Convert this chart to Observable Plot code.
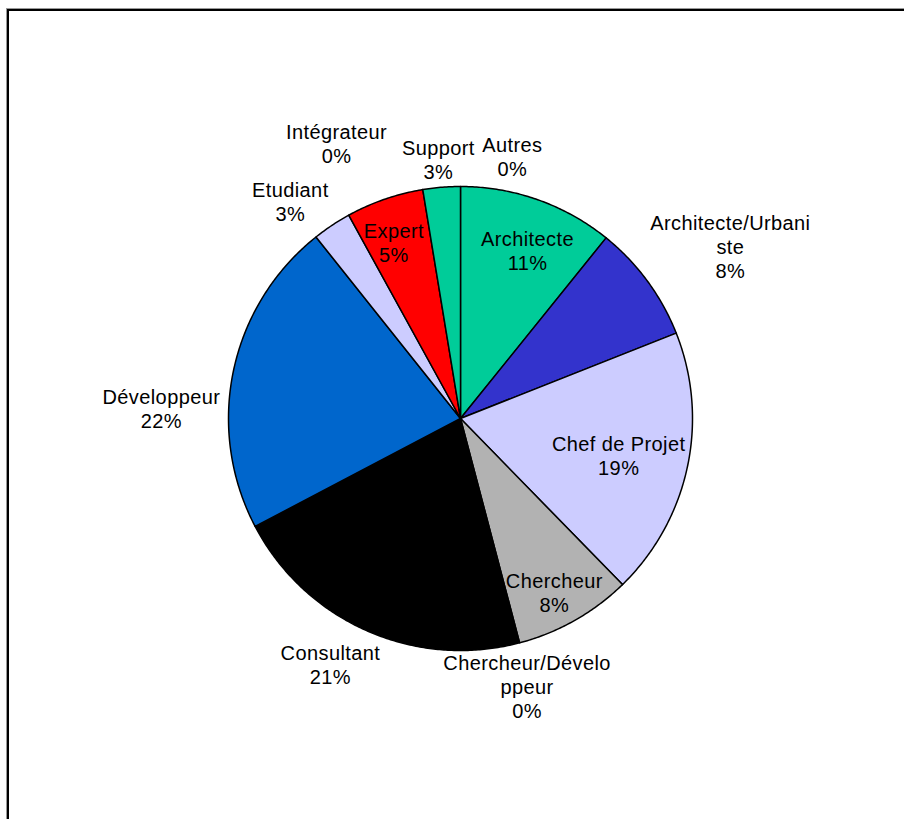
<!DOCTYPE html>
<html>
<head>
<meta charset="utf-8">
<script src="https://cdn.jsdelivr.net/npm/d3@7"></script>
<script src="https://cdn.jsdelivr.net/npm/@observablehq/plot@0.6"></script>
<style>
  html, body { margin: 0; padding: 0; background: #fff; }
  #wrap { position: relative; width: 904px; height: 819px; overflow: hidden; background: #fff; }
  #frame { position: absolute; left: 7px; top: 9px; width: 1200px; height: 1200px;
           border-top: 2px solid #000; border-left: 2px solid #000;
           box-shadow: -1px -1px 0 #999; pointer-events: none; }
  #chart { position: absolute; left: 0; top: 0; }
  #chart text { letter-spacing: 0.4px; }
</style>
</head>
<body>
<div id="wrap"><div id="chart"></div><div id="frame"></div></div>
<script>
// ---- data (clockwise from 12 o'clock) ----
const categories = ["Autres", "Architecte", "Architecte/Urbaniste", "Chef de Projet", "Chercheur",
  "Chercheur/Développeur", "Consultant", "Développeur", "Etudiant", "Expert", "Intégrateur", "Support"];
const displayLabels = ["Autres", "Architecte", "Architecte/Urbani\nste", "Chef de Projet", "Chercheur",
  "Chercheur/Dévelo\nppeur", "Consultant", "Développeur", "Etudiant", "Expert", "Intégrateur", "Support"];
const values = [0, 10.8, 8.2, 18.7, 8.2, 0, 21.4, 22.0, 2.7, 5.4, 0, 2.6];
const colors = ["#FFFFCC", "#00CC99", "#3333CC", "#CCCCFF", "#B2B2B2", "#808080", "#000000",
  "#0066CC", "#CCCCFF", "#FF0000", "#99CCFF", "#00CC99"];

// ---- label layout (Excel "best fit" placement): radius factor and angle shift (deg) ----
const labelRadius = [1.15, 0.78, 1.38, 0.70, 0.85, 1.19, 1.20, 1.29, 1.19, 0.81, 1.30, 1.12];
const labelShift  = [11.2, 2.3, 3.8, 1.0, 1.1, 0.8, 4.1, -10.0, -4.4, -1.7, -14.9, -0.2];

// ---- geometry ----
const W = 904, H = 819, cx = 460, cy = 418, R = 232;
const total = d3.sum(values);
let acc = 0;
const slices = categories.map((name, i) => {
  const a0 = acc / total * 360;
  acc += values[i];
  const a1 = acc / total * 360;
  return {name, label: displayLabels[i], value: values[i], color: colors[i], a0, a1, mid: (a0 + a1) / 2, i};
});

const rad = a => a * Math.PI / 180;
const polys = [];
for (const s of slices) {
  if (s.value <= 0) continue;
  polys.push({name: s.name, color: s.color, x: 0, y: 0});
  const n = Math.max(2, Math.ceil((s.a1 - s.a0) / 0.5));
  for (let k = 0; k <= n; k++) {
    const a = s.a0 + (s.a1 - s.a0) * k / n;
    polys.push({name: s.name, color: s.color, x: Math.sin(rad(a)), y: Math.cos(rad(a))});
  }
}

const labels = slices.map(s => {
  const a = s.mid + labelShift[s.i];
  const r = labelRadius[s.i];
  return {text: `${s.label}\n${Math.round(s.value / total * 100)}%`, x: r * Math.sin(rad(a)), y: r * Math.cos(rad(a))};
});

const chart = Plot.plot({
  width: W, height: H,
  margin: 0,
  x: {domain: [-cx / R, (W - cx) / R], axis: null},
  y: {domain: [-(H - cy) / R, cy / R], axis: null},
  color: {type: "identity"},
  style: {background: "transparent", fontFamily: "'Liberation Sans', Arial, sans-serif"},
  marks: [
    Plot.line(polys, {x: "x", y: "y", z: "name", fill: "color", stroke: "#000", strokeWidth: 1.5,
      curve: "linear-closed", strokeLinejoin: "round"}),
    Plot.text(labels, {x: "x", y: "y", text: "text", fontSize: 20, lineHeight: 1.2, fill: "#000",
      textAnchor: "middle"})
  ]
});
document.getElementById("chart").appendChild(chart);
</script>
</body>
</html>
